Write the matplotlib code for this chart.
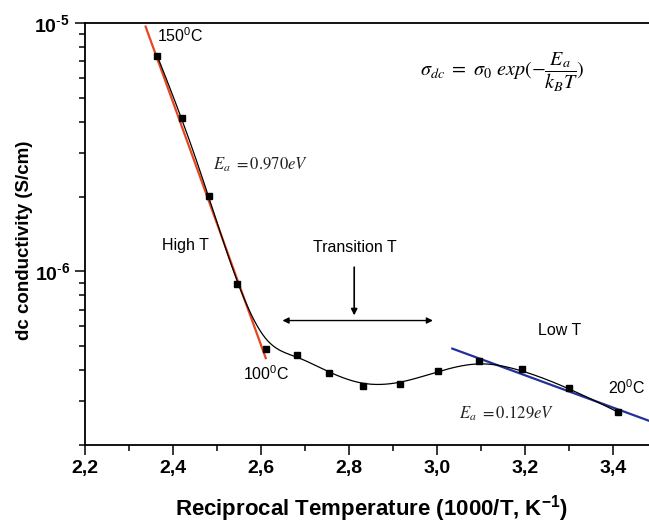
import numpy as np
import matplotlib
matplotlib.use('Agg')
import matplotlib.pyplot as plt
from matplotlib.ticker import FixedLocator, FixedFormatter, LogLocator, NullFormatter

plt.rcParams['font.family'] = ['Liberation Sans', 'DejaVu Sans']
plt.rcParams['mathtext.fontset'] = 'custom'
plt.rcParams['mathtext.rm'] = 'Liberation Sans'
plt.rcParams['mathtext.it'] = 'Liberation Sans:italic'
plt.rcParams['mathtext.bf'] = 'Liberation Sans:bold'

# temperatures of the measurement points, degC (x = 1000/T)
temp_C = [150, 140, 130, 120, 110, 100, 90, 80, 70, 60, 50, 40, 30, 20]
# measured dc conductivity, S/cm
sigma_dc = [7.38e-6, 4.13e-6, 2.01e-6, 8.93e-7, 4.89e-7, 4.59e-7, 3.91e-7,
            3.46e-7, 3.52e-7, 3.96e-7, 4.37e-7, 4.03e-7, 3.40e-7, 2.71e-7]

# Arrhenius fits: activation energy (eV), x-range, anchor point (x, sigma)
Ea_high = 0.970
x_high = [2.337, 2.610]
anchor_high = (2.4735, 2.08e-6)
Ea_low = 0.129
x_low = [3.034, 3.50]
anchor_low = (3.257, 3.50e-7)

xticks = [2.2, 2.4, 2.6, 2.8, 3.0, 3.2, 3.4]
xtick_labels = ['2,2', '2,4', '2,6', '2,8', '3,0', '3,2', '3,4']

kB = 8.617e-5  # eV/K

x = 1000.0 / (np.array(temp_C) + 273.15)
logy = np.log10(sigma_dc)


def bspline_curve(px, py, deg=3, num=500):
    # clamped uniform B-spline using the data points as control points
    n = len(px)
    knots = np.concatenate([np.zeros(deg), np.arange(n - deg + 1), np.full(deg, n - deg)])
    t = np.linspace(0, n - deg, num)
    N = np.zeros((num, len(knots) - 1))
    for i in range(len(knots) - 1):
        N[:, i] = (t >= knots[i]) & (t < knots[i + 1])
    N[-1, n - 1] = 1.0
    for d in range(1, deg + 1):
        newN = np.zeros((num, len(knots) - 1 - d))
        for i in range(len(knots) - 1 - d):
            ld = knots[i + d] - knots[i]
            rd = knots[i + d + 1] - knots[i + 1]
            if ld > 0:
                newN[:, i] += (t - knots[i]) / ld * N[:, i]
            if rd > 0:
                newN[:, i] += (knots[i + d + 1] - t) / rd * N[:, i + 1]
        N = newN
    return N @ px, N @ py


xs_fine, ly_fine = bspline_curve(x, logy)
ys_fine = 10 ** ly_fine


def arrhenius_line(Ea, xr, anchor):
    slope = -Ea / (kB * np.log(10) * 1000.0)
    xr = np.array(xr)
    return xr, 10 ** (np.log10(anchor[1]) + slope * (xr - anchor[0]))


fig = plt.figure(figsize=(6.49, 5.24), dpi=100)
ax = fig.add_axes([0.1315, 0.1508, 0.8814, 0.8053])

ax.plot(xs_fine, ys_fine, color='black', lw=0.9, zorder=3)
ax.plot(x, sigma_dc, ls='none', marker='s', ms=4.5, color='black', zorder=4)

xh, yh = arrhenius_line(Ea_high, x_high, anchor_high)
ax.plot(xh, yh, color='#e8461e', lw=1.6, zorder=2)
xl, yl = arrhenius_line(Ea_low, x_low, anchor_low)
ax.plot(xl, yl, color='#23309a', lw=1.6, zorder=2)

ax.set_yscale('log')
ax.set_xlim(2.2, 3.5)
ax.set_ylim(2e-7, 1e-5)

ax.xaxis.set_major_locator(FixedLocator(xticks))
ax.xaxis.set_major_formatter(FixedFormatter(xtick_labels))
ax.xaxis.set_minor_locator(FixedLocator(np.arange(2.3, 3.5, 0.2)))
ax.yaxis.set_major_locator(FixedLocator([1e-6, 1e-5]))
ax.yaxis.set_major_formatter(FixedFormatter([r'$\mathbf{10}^{\text{-}\mathbf{6}}$',
                                             r'$\mathbf{10}^{\text{-}\mathbf{5}}$']))
ax.yaxis.set_minor_locator(LogLocator(base=10, subs=np.arange(2, 10)))
ax.yaxis.set_minor_formatter(NullFormatter())

ax.tick_params(which='both', direction='out', width=1.1, top=False, right=False)
ax.tick_params(which='major', length=7, labelsize=14, pad=4)
ax.tick_params(which='minor', length=4)
for lab in ax.get_xticklabels():
    lab.set_fontweight('bold')

for side in ['left', 'bottom', 'top']:
    ax.spines[side].set_linewidth(1.3)
ax.spines['right'].set_visible(False)

ax.set_xlabel(r'Reciprocal Temperature (1000/T, K$^{\mathbf{-1}}$)',
              fontsize=16, fontweight='bold')
ax.xaxis.set_label_coords(0.5, -0.115)
ax.set_ylabel('dc conductivity (S/cm)', fontsize=13.5, fontweight='bold')
ax.yaxis.set_label_coords(-0.0914, 0.486)

fs = 11.5
ax.text(2.363, 8.87e-6, r'150$^0$C', fontsize=fs, va='center', ha='left')
ax.text(2.375, 10**-5.895, 'High T', fontsize=fs, va='center', ha='left')
ax.text(2.813, 10**-5.903, 'Transition T', fontsize=fs, va='center', ha='center')
ax.text(3.277, 10**-6.238, 'Low T', fontsize=fs, va='center', ha='center')
ax.text(2.612, 10**-6.4125, r'100$^0$C', fontsize=fs, va='center', ha='center')
ax.text(3.430, 10**-6.469, r'20$^0$C', fontsize=fs, va='center', ha='center')

ax.text(2.491, 10**-5.569, r'$E_a\ =\mathit{0.970eV}$', fontsize=12,
        va='center', ha='left', math_fontfamily='stix', color='#222222')
ax.text(3.049, 10**-6.573, r'$E_a\ =\mathit{0.129eV}$', fontsize=12,
        va='center', ha='left', math_fontfamily='stix', color='#222222')
ax.text(3.148, 10**-5.198,
        r'$\sigma_{dc}\ =\ \sigma_0\ exp(-\dfrac{E_a}{k_BT})$',
        fontsize=14.5, va='center', ha='center', math_fontfamily='stix')

# transition region arrows
ax.annotate('', xy=(2.648, 6.34e-7), xytext=(2.990, 6.34e-7),
            arrowprops=dict(arrowstyle='<|-|>', color='black', lw=1.0,
                            mutation_scale=9, shrinkA=0, shrinkB=0))
ax.annotate('', xy=(2.811, 6.65e-7), xytext=(2.811, 1.04e-6),
            arrowprops=dict(arrowstyle='-|>', color='black', lw=1.2,
                            mutation_scale=9, shrinkA=0, shrinkB=0))

fig.savefig('out.png', dpi=100)
